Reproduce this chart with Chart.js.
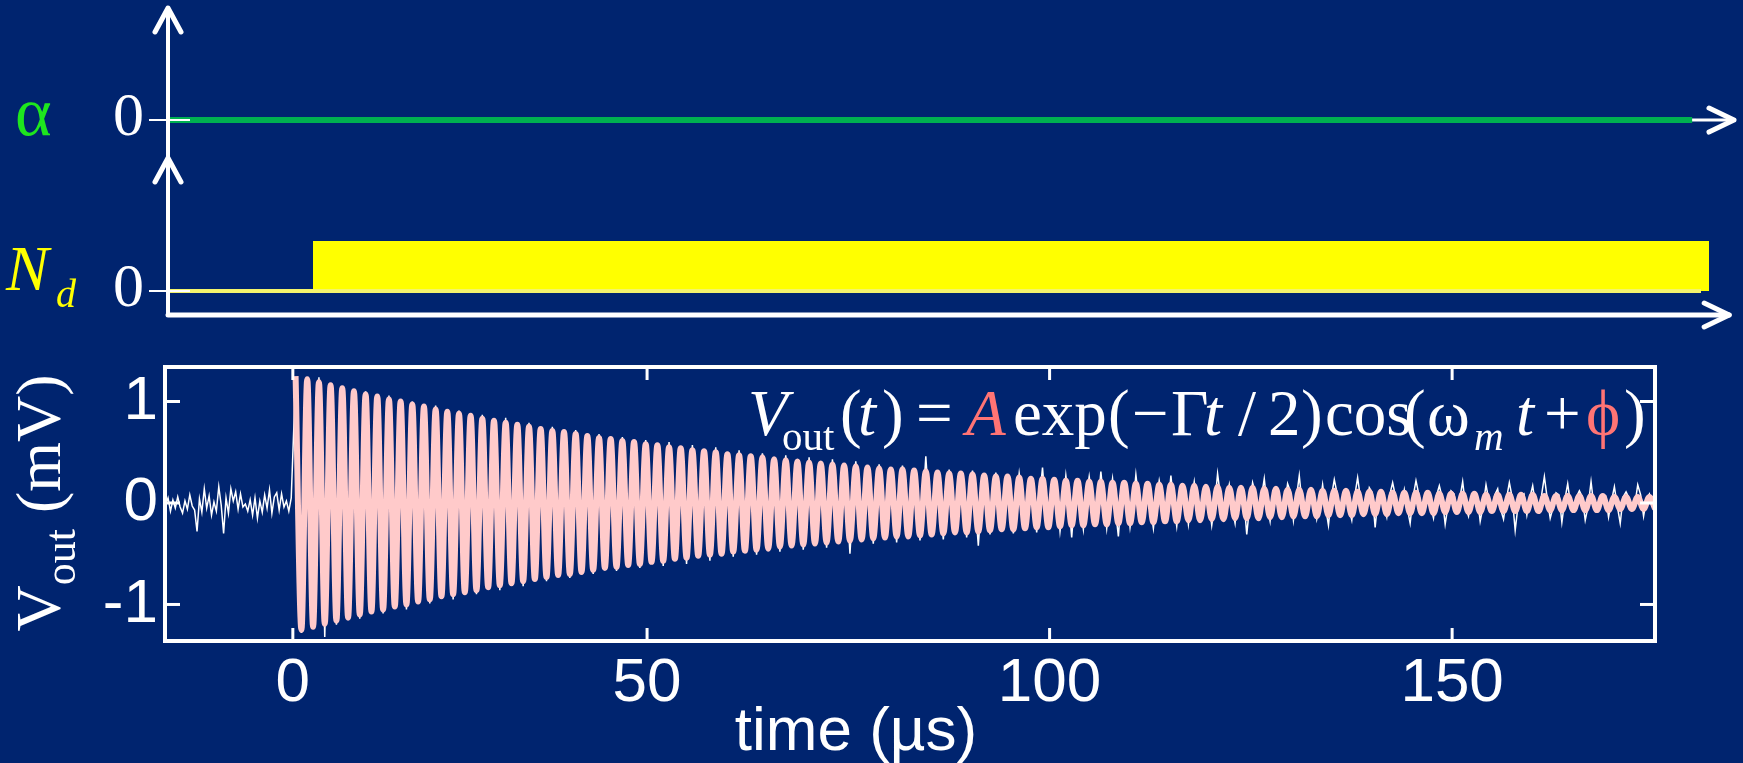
<!DOCTYPE html>
<html>
<head>
<meta charset="utf-8">
<script src="https://cdn.jsdelivr.net/npm/chart.js@4.4.1/dist/chart.umd.min.js"></script>
<style>
  html, body { margin: 0; padding: 0; background: #00246f; }
  #wrap { position: relative; width: 1743px; height: 763px; overflow: hidden; }
  canvas { position: absolute; left: 0; top: 0; }
</style>
</head>
<body>
<div id="wrap">
  <canvas id="schematic" width="1743" height="330"></canvas>
  <canvas id="signal" width="1743" height="763"></canvas>
</div>
<script>
// ---------- top schematic: alpha and N_d ----------
const alphaTime = [-9.25, 179.8];
const alphaLevel = [0, 0];
const ndLineTime = [-9.25, 180.9];
const ndLineLevel = [0, 0];
const ndStepTime = [8.5, 181.9];
const ndStepLevel = [1, 1];

// ---------- bottom: ringdown signal ----------
const timeTicks = [6.0, 50, 100, 150];
const timeTickLabels = ['0', '50', '100', '150'];
const voltTicks = [-1, 0, 1];

// noise before the drive is switched on (sampled every 0.3 us from -9.8)
const preTriggerStart = -9.8;
const preTriggerStep = 0.3;
const preTrigger = [
  -0.02, 0.05, -0.08, 0.03, -0.05, 0.06, -0.04, -0.10, 0.02, -0.06,
  0.08, -0.03, -0.07, -0.28, 0.04, -0.09, 0.14, -0.05, 0.07, -0.12,
  0.01, -0.08, 0.16, -0.02, -0.30, 0.05, -0.10, 0.14, 0.02, 0.11,
  -0.06, 0.09, -0.04, -0.01, -0.08, 0.03, -0.12, 0.05, -0.15, 0.02,
  -0.09, 0.08, -0.05, 0.13, -0.10, 0.06, 0.10, -0.07, 0.09, -0.04,
  0.02, -0.08, 0.05
];

// first maximum after the step and the ringing period (us)
const ringStart = 6.34;
const ringPeriod = 1.4497;

// fitted envelope, one value per cycle (mV)
const fitAmplitude = [
  1.25, 1.22, 1.19, 1.16, 1.13, 1.10, 1.07, 1.05, 1.02, 1.00,
  0.97, 0.95, 0.92, 0.90, 0.88, 0.86, 0.83, 0.81, 0.79, 0.77,
  0.75, 0.73, 0.71, 0.70, 0.68, 0.66, 0.64, 0.63, 0.61, 0.60,
  0.58, 0.57, 0.55, 0.54, 0.52, 0.51, 0.50, 0.48, 0.47, 0.46,
  0.45, 0.43, 0.42, 0.41, 0.40, 0.39, 0.38, 0.37, 0.36, 0.35,
  0.34, 0.33, 0.33, 0.32, 0.31, 0.30, 0.29, 0.29, 0.28, 0.27,
  0.26, 0.26, 0.25, 0.24, 0.24, 0.23, 0.22, 0.22, 0.21, 0.21,
  0.20, 0.20, 0.19, 0.19, 0.18, 0.18, 0.17, 0.17, 0.16, 0.16,
  0.15, 0.15, 0.15, 0.14, 0.14, 0.13, 0.13, 0.13, 0.12, 0.12,
  0.12, 0.11, 0.11, 0.11, 0.10, 0.10, 0.10, 0.10, 0.09, 0.09,
  0.09, 0.09, 0.08, 0.08, 0.08, 0.08, 0.08, 0.07, 0.07, 0.07,
  0.07, 0.07, 0.07, 0.06, 0.06, 0.06, 0.06
];

// measured trace, four samples per cycle: max, crossing, min, crossing (mV)
const measured = [
  1.22, 0.05, -1.28, -0.02,   1.20, -0.03, -1.22, 0.04,
  1.24, 0.02, -1.32, -0.05,   1.12, 0.06, -1.20, 0.01,
  1.15, -0.04, -1.10, 0.03,   1.08, 0.02, -1.14, -0.03,
  1.10, 0.05, -1.04, 0.02,    1.02, -0.02, -1.09, 0.04,
  1.06, 0.03, -0.98, -0.04,   0.97, 0.01, -1.05, 0.05,
  1.00, -0.04, -0.93, 0.02,   0.92, 0.05, -0.99, -0.02,
  0.96, 0.00, -0.88, 0.04,    0.87, -0.05, -0.95, 0.01,
  0.91, 0.03, -0.84, -0.03,   0.83, 0.06, -0.90, 0.02,
  0.87, -0.02, -0.80, 0.05,   0.78, 0.02, -0.86, -0.04,
  0.84, 0.04, -0.75, 0.01,    0.74, -0.03, -0.82, 0.03,
  0.79, 0.05, -0.72, -0.02,   0.70, -0.01, -0.77, 0.04,
  0.75, 0.03, -0.68, -0.05,   0.66, 0.06, -0.74, 0.02,
  0.72, -0.04, -0.64, 0.03,   0.63, 0.02, -0.70, -0.03,
  0.68, 0.05, -0.60, 0.01,    0.60, -0.03, -0.67, 0.06,
  0.65, 0.02, -0.57, -0.02,   0.56, 0.04, -0.64, 0.03,
  0.62, -0.05, -0.55, 0.04,   0.54, 0.03, -0.62, -0.01,
  0.60, 0.06, -0.51, 0.02,    0.50, -0.02, -0.60, 0.05,
  0.57, 0.04, -0.49, -0.04,   0.47, 0.01, -0.57, 0.03,
  0.55, -0.05, -0.46, 0.06,   0.44, 0.05, -0.53, -0.02,
  0.52, 0.02, -0.44, 0.03,    0.42, -0.03, -0.51, 0.04,
  0.49, 0.06, -0.42, -0.03,   0.40, -0.02, -0.48, 0.05,
  0.47, 0.03, -0.39, 0.01,    0.37, 0.07, -0.46, -0.04,
  0.45, -0.03, -0.37, 0.04,   0.35, 0.04, -0.44, 0.02,
  0.43, -0.05, -0.34, 0.06,   0.33, 0.02, -0.50, -0.02,
  0.41, 0.05, -0.32, 0.03,    0.31, -0.04, -0.40, 0.05,
  0.38, 0.03, -0.30, -0.04,   0.29, 0.06, -0.39, 0.02,
  0.37, -0.02, -0.28, 0.05,   0.27, 0.04, -0.37, -0.03,
  0.46, 0.01, -0.27, 0.04,    0.26, -0.05, -0.36, 0.02,
  0.33, 0.05, -0.24, -0.02,   0.24, 0.02, -0.34, 0.06,
  0.32, -0.03, -0.42, 0.01,   0.23, 0.05, -0.31, -0.04,
  0.30, 0.03, -0.22, 0.05,    0.21, -0.04, -0.30, 0.02,
  0.29, 0.06, -0.21, -0.03,   0.20, 0.01, -0.29, 0.05,
  0.35, -0.03, -0.20, 0.02,   0.19, 0.05, -0.28, -0.04,
  0.27, 0.02, -0.34, 0.04,    0.18, -0.05, -0.26, 0.06,
  0.26, 0.04, -0.17, -0.02,   0.31, 0.01, -0.25, 0.03,
  0.24, -0.06, -0.33, 0.05,   0.17, 0.04, -0.24, -0.03,
  0.28, 0.02, -0.16, 0.06,    0.15, -0.05, -0.25, 0.02,
  0.22, 0.07, -0.15, -0.04,   0.27, -0.02, -0.23, 0.05,
  0.14, 0.05, -0.21, 0.03,    0.21, -0.04, -0.13, 0.07,
  0.13, 0.03, -0.22, -0.02,   0.29, 0.06, -0.14, 0.04,
  0.18, -0.05, -0.20, 0.08,   0.12, 0.04, -0.31, -0.02,
  0.20, 0.09, -0.11, 0.05,    0.24, -0.03, -0.18, 0.10,
  0.12, 0.06, -0.10, -0.04,   0.19, 0.11, -0.17, 0.05,
  0.27, -0.02, -0.09, 0.08,   0.11, 0.07, -0.16, -0.03,
  0.18, -0.04, -0.22, 0.06,   0.23, 0.09, -0.08, 0.02,
  0.10, -0.05, -0.17, 0.07,   0.25, 0.04, -0.08, -0.03,
  0.15, 0.10, -0.24, 0.05,    0.09, -0.02, -0.14, 0.08,
  0.20, 0.06, -0.07, -0.04,   0.13, -0.05, -0.20, 0.06,
  0.22, 0.08, -0.06, 0.02,    0.08, -0.03, -0.15, 0.07,
  0.17, 0.05, -0.21, -0.02,   0.12, 0.09, -0.06, 0.04,
  0.21, -0.04, -0.13, 0.06,   0.09, 0.07, -0.18, -0.03,
  0.18, 0.02, -0.07, 0.08,    0.14, -0.06, -0.16, 0.04,
  0.20, 0.05, -0.27, -0.02,   0.07, 0.09, -0.12, 0.05,
  0.17, -0.03, -0.06, 0.07,   0.26, 0.04, -0.15, -0.04,
  0.10, 0.08, -0.19, 0.03,    0.19, -0.02, -0.05, 0.06,
  0.12, 0.06, -0.17, -0.03,   0.21, -0.04, -0.08, 0.05,
  0.08, 0.07, -0.14, 0.02,    0.16, -0.03, -0.20, 0.06,
  0.11, 0.05, -0.07, -0.02,   0.18, 0.08, -0.13, 0.04,
  0.09, -0.02, -0.10, 0.07
];

const WHITE = '#ffffff';
const SALMON = '#ff7474';
const SERIF = '"Liberation Serif", "Times New Roman", serif';
const SANS = '"Liberation Sans", Arial, sans-serif';

const pts = (xs, ys) => xs.map((x, i) => ({ x, y: ys[i] }));

const fitPoints = [];
fitAmplitude.forEach((a, k) => {
  fitPoints.push({ x: ringStart + k * ringPeriod, y: a });
  fitPoints.push({ x: ringStart + (k + 0.5) * ringPeriod, y: -a });
});
const measuredPoints = preTrigger
  .map((v, i) => ({ x: preTriggerStart + i * preTriggerStep, y: v }))
  .concat(measured.map((v, i) => ({ x: ringStart + i * ringPeriod / 4, y: v })));

function seg(ctx, x1, y1, x2, y2) {
  ctx.beginPath();
  ctx.moveTo(x1, y1);
  ctx.lineTo(x2, y2);
  ctx.stroke();
}

function arrowHead(ctx, x, y, dir) {
  ctx.beginPath();
  if (dir === 'up') {
    ctx.moveTo(x - 13, y + 24); ctx.lineTo(x, y); ctx.lineTo(x + 13, y + 24);
  } else {
    ctx.moveTo(x - 25, y - 12); ctx.lineTo(x, y); ctx.lineTo(x - 25, y + 12);
  }
  ctx.stroke();
}

// axes of the schematic: arrows, zero dashes and labels
const alphaArrowEnd = 185.0;
const baseArrowEnd = 184.4;
const ndArrowTop = 2.66;

const schematicAxes = {
  id: 'schematicAxes',
  beforeDatasetsDraw(chart) {
    const { ctx, scales: { x, yA, yN } } = chart;
    const left = x.getPixelForValue(x.min);
    const alphaZero = yA.getPixelForValue(0);
    const base = yN.getPixelForValue(yN.min);
    const top = yA.getPixelForValue(yA.max);
    ctx.save();
    ctx.strokeStyle = WHITE;
    ctx.lineCap = 'round';
    ctx.lineJoin = 'round';
    ctx.lineWidth = 4;
    seg(ctx, left, base, left, top);
    ctx.lineWidth = 3;
    seg(ctx, left, alphaZero, x.getPixelForValue(alphaArrowEnd), alphaZero);
    ctx.lineWidth = 5;
    seg(ctx, left, base, x.getPixelForValue(baseArrowEnd), base);
    arrowHead(ctx, left, top, 'up');
    arrowHead(ctx, left, yN.getPixelForValue(ndArrowTop), 'up');
    arrowHead(ctx, x.getPixelForValue(alphaArrowEnd), alphaZero, 'right');
    arrowHead(ctx, x.getPixelForValue(baseArrowEnd), base, 'right');
    ctx.restore();
  },
  afterDatasetsDraw(chart) {
    const { ctx, scales: { x, yA, yN } } = chart;
    const left = x.getPixelForValue(x.min);
    const zeros = [yA.getPixelForValue(0), yN.getPixelForValue(0)];
    ctx.save();
    ctx.strokeStyle = WHITE;
    ctx.lineWidth = 2;
    zeros.forEach(y => seg(ctx, left - 19, y, left + 22, y));
    ctx.fillStyle = WHITE;
    ctx.font = '62px ' + SERIF;
    ctx.textAlign = 'right';
    ctx.textBaseline = 'alphabetic';
    zeros.forEach(y => ctx.fillText('0', left - 24, y + 15));
    ctx.textAlign = 'left';
    ctx.fillStyle = '#1ee61e';
    ctx.font = '70px ' + SERIF;
    ctx.fillText('α', 15, zeros[0] + 15);
    ctx.fillStyle = '#ffff00';
    ctx.font = 'italic 64px ' + SERIF;
    ctx.fillText('N', 6, zeros[1] - 1);
    ctx.font = 'italic 40px ' + SERIF;
    ctx.fillText('d', 56, zeros[1] + 16);
    ctx.restore();
  }
};

new Chart(document.getElementById('schematic'), {
  type: 'line',
  data: {
    datasets: [
      { label: 'N_d step', data: pts(ndStepTime, ndStepLevel), yAxisID: 'yN',
        borderWidth: 0, backgroundColor: '#ffff00', fill: 'origin', pointRadius: 0, order: 3 },
      { label: 'N_d', data: pts(ndLineTime, ndLineLevel), yAxisID: 'yN',
        borderColor: '#f4f46c', borderWidth: 4, pointRadius: 0, order: 2 },
      { label: 'alpha', data: pts(alphaTime, alphaLevel), yAxisID: 'yA',
        borderColor: '#00b050', borderWidth: 6, pointRadius: 0, order: 1 }
    ]
  },
  options: {
    responsive: false,
    animation: false,
    devicePixelRatio: 1,
    layout: { padding: { left: 168, right: 9, top: 8, bottom: 15 } },
    plugins: { legend: { display: false }, tooltip: { enabled: false } },
    scales: {
      x: { type: 'linear', display: false, min: -9.5, max: 185 },
      yA: { type: 'linear', display: false, min: -1.74, max: 1 },
      yN: { type: 'linear', display: false, min: -0.48, max: 5.66 }
    }
  },
  plugins: [schematicAxes]
});

// frame, inner ticks, axis titles and the fit formula
const formula = [
  { t: 'V', x: 748, f: 'italic 65px' },
  { t: 'out', x: 782, f: '41px', dy: 15 },
  { t: '(', x: 840 }, { t: 't', x: 858, f: 'italic 65px' }, { t: ')', x: 882 },
  { t: '=', x: 916 },
  { t: 'A', x: 966, f: 'italic 65px', c: SALMON },
  { t: 'exp', x: 1013 }, { t: '(', x: 1108 }, { t: '−', x: 1132 }, { t: 'Γ', x: 1171 },
  { t: 't', x: 1204, f: 'italic 65px' }, { t: '/', x: 1238 }, { t: '2', x: 1268 },
  { t: ')', x: 1301 }, { t: 'cos', x: 1325 }, { t: '(', x: 1404 }, { t: 'ω', x: 1427 },
  { t: 'm', x: 1474, f: 'italic 41px', dy: 15 }, { t: 't', x: 1516, f: 'italic 65px' },
  { t: '+', x: 1544 }, { t: 'ϕ', x: 1586, c: SALMON }, { t: ')', x: 1624 }
];

const signalFrame = {
  id: 'signalFrame',
  afterDatasetsDraw(chart) {
    const { ctx, chartArea: a, scales: { x, y } } = chart;
    ctx.save();
    ctx.strokeStyle = WHITE;
    ctx.lineWidth = 3;
    timeTicks.forEach(v => {
      const px = x.getPixelForValue(v);
      seg(ctx, px, a.top, px, a.top + 13);
      seg(ctx, px, a.bottom, px, a.bottom - 13);
    });
    voltTicks.forEach(v => {
      const py = y.getPixelForValue(v);
      seg(ctx, a.left, py, a.left + 15, py);
      seg(ctx, a.right, py, a.right - 15, py);
    });
    ctx.lineWidth = 4;
    ctx.strokeRect(a.left, a.top, a.right - a.left, a.bottom - a.top);

    ctx.fillStyle = WHITE;
    ctx.textBaseline = 'alphabetic';
    ctx.textAlign = 'left';
    formula.forEach(s => {
      ctx.font = (s.f || '65px') + ' ' + SERIF;
      ctx.fillStyle = s.c || WHITE;
      ctx.fillText(s.t, s.x, 435 + (s.dy || 0));
    });

    // x title
    ctx.fillStyle = WHITE;
    ctx.font = '62px ' + SANS;
    ctx.textAlign = 'center';
    ctx.fillText('time (µs)', 856, 750);

    // y title, rotated
    ctx.translate(60, y.getPixelForValue(0));
    ctx.rotate(-Math.PI / 2);
    ctx.textAlign = 'left';
    const parts = [['V', '64px', 0], ['out', '44px', 15], [' (mV)', '64px', 0]];
    let w = 0;
    parts.forEach(p => { ctx.font = p[1] + ' ' + SERIF; w += ctx.measureText(p[0]).width; });
    let cx = -w / 2;
    parts.forEach(p => {
      ctx.font = p[1] + ' ' + SERIF;
      ctx.fillText(p[0], cx, p[2]);
      cx += ctx.measureText(p[0]).width;
    });
    ctx.restore();
  }
};

new Chart(document.getElementById('signal'), {
  type: 'line',
  data: {
    datasets: [
      { label: 'fit', data: fitPoints, borderColor: '#ffcaca', borderWidth: 6,
        pointRadius: 0, cubicInterpolationMode: 'monotone', order: 0 },
      { label: 'data', data: measuredPoints, borderColor: WHITE, borderWidth: 1.5,
        pointRadius: 0, order: 1 }
    ]
  },
  options: {
    responsive: false,
    animation: false,
    devicePixelRatio: 1,
    layout: { padding: { left: 0, right: 88, top: 367, bottom: 0 } },
    plugins: { legend: { display: false }, tooltip: { enabled: false } },
    scales: {
      x: {
        type: 'linear', min: -9.88, max: 175.2,
        afterFit: s => { s.height = 122; },
        afterBuildTicks: s => { s.ticks = timeTicks.map(v => ({ value: v })); },
        grid: { display: false, drawTicks: false },
        border: { display: false },
        ticks: {
          color: WHITE, padding: 6, autoSkip: false, maxRotation: 0,
          font: { family: SANS, size: 62 },
          callback: (v, i) => timeTickLabels[i]
        }
      },
      y: {
        type: 'linear', min: -1.36, max: 1.34,
        afterFit: s => { s.width = 165; },
        afterBuildTicks: s => { s.ticks = voltTicks.map(v => ({ value: v })); },
        grid: { display: false, drawTicks: false },
        border: { display: false },
        ticks: {
          color: WHITE, padding: 7,
          font: { family: SANS, size: 62 },
          callback: v => String(v)
        }
      }
    }
  },
  plugins: [signalFrame]
});
</script>
</body>
</html>
